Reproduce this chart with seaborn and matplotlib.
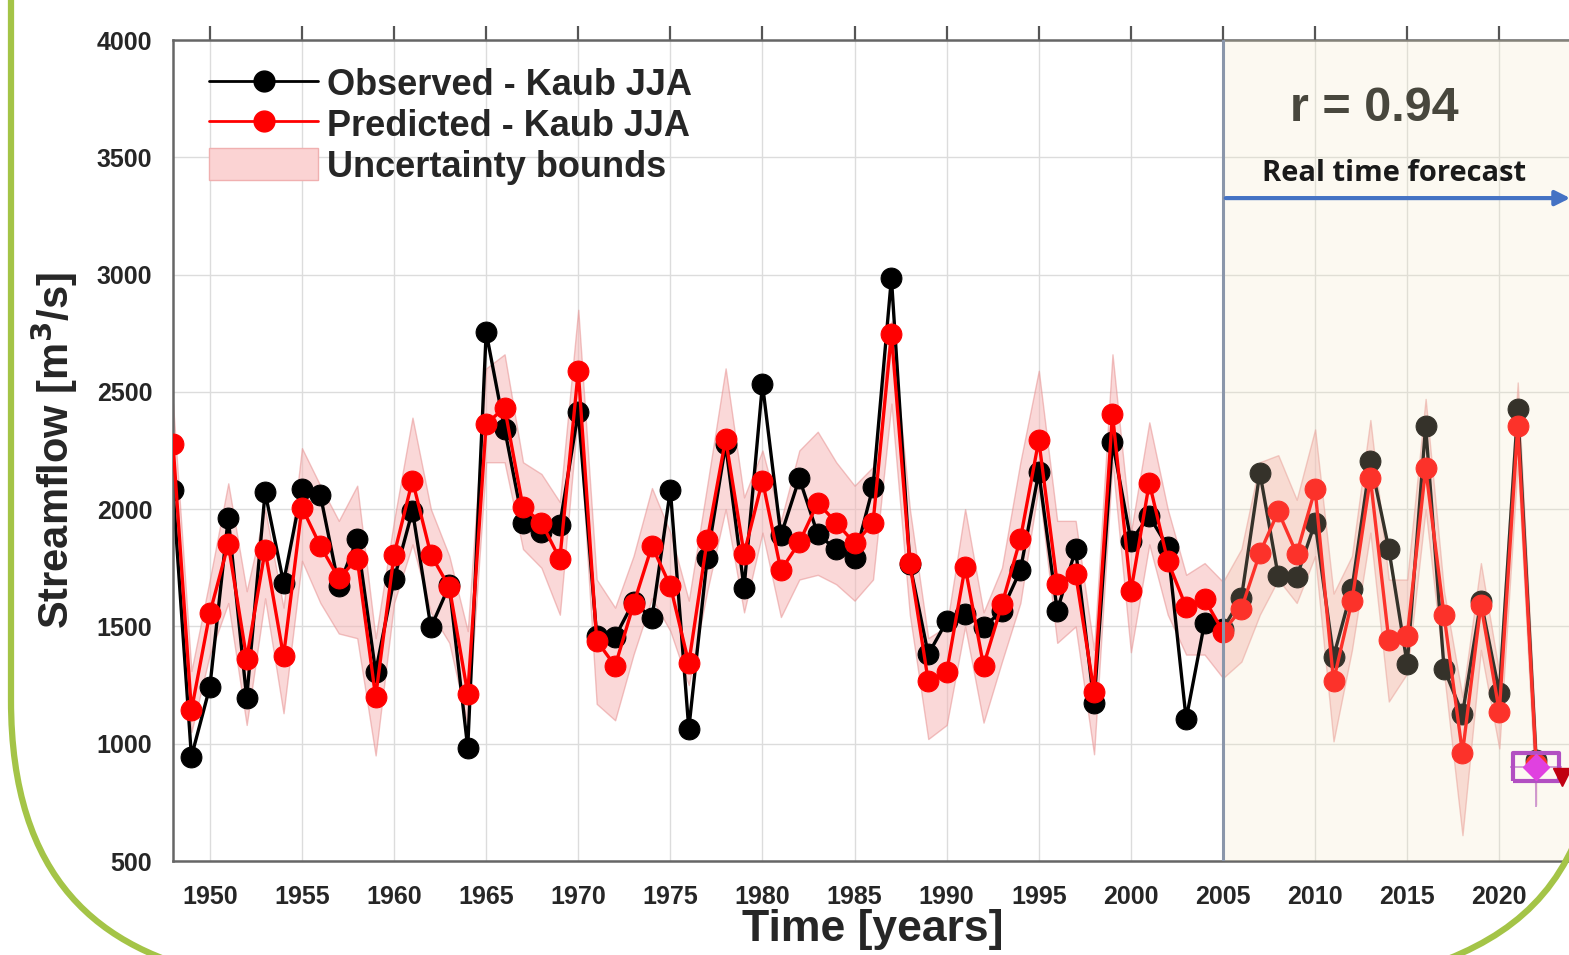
import matplotlib
matplotlib.use("Agg")
import matplotlib.pyplot as plt
import matplotlib.patches as mpatches
from matplotlib.path import Path
from matplotlib.lines import Line2D
import numpy as np
import pandas as pd
import seaborn as sns

# Kaub JJA streamflow
years = list(range(1948, 2023))

observed = [2082, 945, 1242, 1963, 1194, 2072, 1687, 2087, 2060, 1672,
            1873, 1306, 1701, 1993, 1496, 1675, 982, 2754, 2343, 1940,
            1903, 1933, 2415, 1460, 1455, 1605, 1534, 2082, 1063, 1791,
            2276, 1664, 2533, 1888, 2131, 1893, 1828, 1791, 2094, 2985,
            1765, 1381, 1522, 1552, 1496, 1567, 1739, 2157, 1567, 1828,
            1172, 2287, 1866, 1970, 1839, 1105, 1516, 1490, 1622, 2156,
            1714, 1710, 1943, 1371, 1660, 2207, 1831, 1339, 2354, 1320,
            1126, 1608, 1218, 2425, 930]

predicted = [2279, 1142, 1557, 1851, 1363, 1824, 1373, 2007, 1843, 1705,
             1788, 1199, 1806, 2122, 1806, 1667, 1213, 2363, 2433, 2008,
             1943, 1787, 2590, 1440, 1331, 1594, 1843, 1672, 1343, 1869,
             2299, 1809, 2122, 1739, 1858, 2027, 1943, 1854, 1940, 2746,
             1772, 1266, 1306, 1754, 1333, 1594, 1873, 2294, 1682, 1724,
             1221, 2406, 1649, 2112, 1779, 1582, 1616, 1478, 1575, 1813,
             1990, 1810, 2085, 1268, 1608, 2132, 1442, 1459, 2174, 1548,
             960, 1593, 1137, 2354, 915]

lower = [2080, 1050, 1380, 1600, 1080, 1620, 1130, 1780, 1600, 1470,
         1450, 950, 1600, 1850, 1560, 1430, 1080, 2200, 2200, 1830,
         1750, 1550, 2420, 1170, 1100, 1380, 1620, 1480, 1250, 1650,
         2000, 1560, 1900, 1540, 1700, 1720, 1680, 1610, 1700, 2450,
         1550, 1020, 1080, 1500, 1090, 1350, 1600, 2100, 1430, 1500,
         955, 2200, 1390, 1850, 1550, 1380, 1380, 1280, 1350, 1550,
         1700, 1600, 1800, 1010, 1400, 1900, 1180, 1300, 2000, 1300,
         610, 1400, 980, 2200, 740]

upper = [2450, 1310, 1700, 2110, 1650, 2000, 1580, 2260, 2100, 1950,
         2100, 1450, 1950, 2390, 2000, 1800, 1480, 2600, 2660, 2200,
         2150, 2030, 2850, 1700, 1580, 1800, 2090, 1900, 1610, 2100,
         2600, 2050, 2250, 1950, 2250, 2330, 2200, 2100, 2180, 2800,
         2000, 1450, 1500, 2000, 1560, 1750, 2200, 2590, 1950, 1950,
         1400, 2660, 1900, 2370, 2000, 1720, 1770, 1690, 1830, 2200,
         2230, 2040, 2340, 1640, 1800, 2380, 1700, 1700, 2470, 1650,
         1200, 1770, 1300, 2540, 1000]

forecast_year = 2022
forecast_value = 900
forecast_start = 2005
x_ticks = list(range(1950, 2021, 5))
y_ticks = list(range(500, 4001, 500))

W, H = 1569, 955

sns.set_style("white")
plt.rcParams["font.family"] = ["Liberation Sans", "DejaVu Sans"]
plt.rcParams["font.weight"] = "bold"

df = pd.DataFrame({"year": years, "observed": observed, "predicted": predicted,
                   "lower": lower, "upper": upper})

fig = plt.figure(figsize=(W / 100, H / 100), dpi=100)
ax = fig.add_axes([173 / W, 1 - 861 / H, 1400 / W, 821 / H])

# uncertainty band
ax.fill_between(df["year"], df["lower"], df["upper"], facecolor="#f6b3b3",
                edgecolor="#e58a8a", alpha=0.5, linewidth=1.0, zorder=1)

sns.lineplot(data=df, x="year", y="observed", ax=ax, color="black", linewidth=2.4,
             marker="o", markersize=15, markeredgecolor="black", zorder=2, legend=False)
sns.lineplot(data=df, x="year", y="predicted", ax=ax, color="#ff0000", linewidth=2.4,
             marker="o", markersize=15, markeredgecolor="#ff0000", zorder=3, legend=False)

# real-time forecast region: cream wash over the data
ax.axvspan(forecast_start, 2030, facecolor="#f2e6c0", alpha=0.22, zorder=4, linewidth=0)
ax.axvline(forecast_start, color="#8a96aa", linewidth=2.2, zorder=5)

# forecast marker
box_marker = [(-1, -0.6), (1, -0.6), (1, 0.6), (-1, 0.6), (-1, -0.6)]
ax.errorbar([forecast_year], [forecast_value], xerr=[[1.4], [1.4]], yerr=[[170], [0]],
            fmt="none", ecolor="#c98fd0", elinewidth=1.2, zorder=6)
ax.plot([forecast_year], [forecast_value], marker=box_marker, markersize=33,
        markerfacecolor="none", markeredgecolor="#b24fc2", markeredgewidth=3,
        zorder=7, linestyle="none")
ax.plot([forecast_year], [forecast_value], marker="D", markersize=13, color="#e041e0",
        zorder=7, linestyle="none")
ax.plot([2023.4], [860], marker="v", markersize=13, color="#c00010", zorder=7,
        linestyle="none", clip_on=False)

ax.text(2013.2, 3710, "r = 0.94", fontsize=35, fontweight="bold", color="#48473d",
        ha="center", va="center", zorder=8)
ax.text(2014.3, 3430, "Real time forecast", fontsize=21, fontweight="bold",
        family=["Open Sans", "DejaVu Sans"], color="#1a1a1a", ha="center", va="center", zorder=8)
ax.annotate("", xy=(2024.0, 3326), xytext=(forecast_start, 3326),
            arrowprops=dict(arrowstyle="-|>", color="#4472c4", lw=3, mutation_scale=22),
            zorder=8, annotation_clip=False)

ax.set_xlim(1948, 2024)
ax.set_ylim(500, 4000)
ax.set_xticks(x_ticks)
ax.set_yticks(y_ticks)
ax.set_yticks([900], minor=True)
ax.grid(True, color="#dcdcdc", linewidth=1.0, zorder=0)
ax.set_axisbelow(True)
ax.tick_params(axis="both", which="both", direction="out", length=10, width=1.6,
               color="#555555", labelsize=18, labelcolor="#262626")
ax.tick_params(axis="x", top=True, pad=7)
ax.tick_params(axis="y", pad=5)
for lab in ax.get_xticklabels() + ax.get_yticklabels():
    lab.set_fontweight("bold")
for side in ["left", "bottom", "top", "right"]:
    ax.spines[side].set_color("#666666")
    ax.spines[side].set_linewidth(1.8)

ax.set_xlabel("Time [years]", fontsize=32, fontweight="bold", labelpad=0)
ax.set_ylabel("Streamflow [m$^\\mathbf{3}$/s]", fontsize=30, fontweight="bold", labelpad=12)

handles = [
    Line2D([0], [0], color="black", lw=2, marker="o", markersize=15),
    Line2D([0], [0], color="#ff0000", lw=2, marker="o", markersize=15),
    mpatches.Patch(facecolor="#fbd3d3", edgecolor="#f0b0b0"),
]
ax.legend(handles, ["Observed - Kaub JJA", "Predicted - Kaub JJA", "Uncertainty bounds"],
          loc="upper left", bbox_to_anchor=(0.026, 0.968), frameon=False,
          prop={"size": 26, "weight": "bold"}, handlelength=3.0, handleheight=1.0,
          handletextpad=0.25, labelspacing=0.12, borderpad=0, borderaxespad=0)


# green rounded frame around the figure
def fig_pt(x, y):
    return (x / W, 1 - y / H)


left_path = Path([fig_pt(11, -10), fig_pt(11, 700), fig_pt(11, 880), fig_pt(100, 950),
                  fig_pt(220, 975)],
                 [Path.MOVETO, Path.LINETO, Path.CURVE4, Path.CURVE4, Path.CURVE4])
right_path = Path([fig_pt(1580, 830), fig_pt(1550, 910), fig_pt(1490, 950), fig_pt(1400, 975)],
                  [Path.MOVETO, Path.CURVE4, Path.CURVE4, Path.CURVE4])
for p in (left_path, right_path):
    fig.add_artist(mpatches.PathPatch(p, facecolor="none", edgecolor="#a4c447",
                                      linewidth=4.5, transform=fig.transFigure))

fig.savefig("out.png", dpi=100)
